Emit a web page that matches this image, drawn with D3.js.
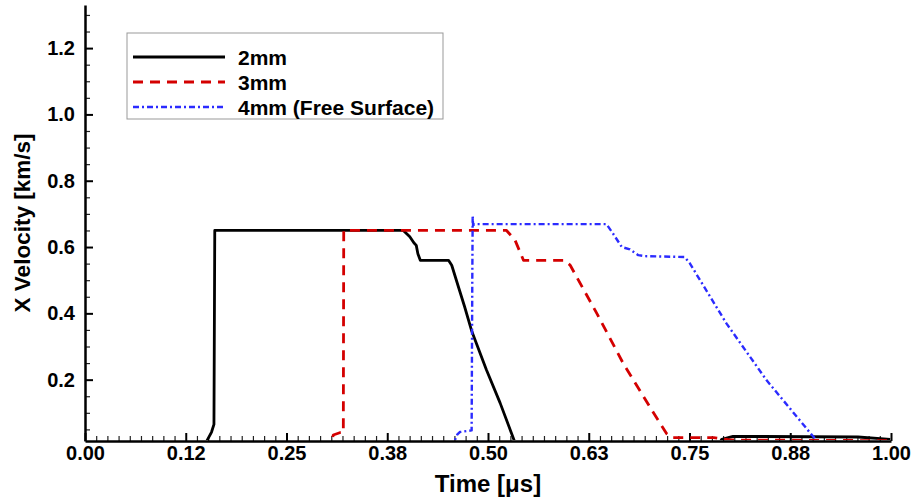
<!DOCTYPE html>
<html>
<head>
<meta charset="utf-8">
<script src="https://cdn.jsdelivr.net/npm/d3@7"></script>
<style>
  html, body { margin: 0; padding: 0; background: #fff; }
  svg { display: block; font-family: "Liberation Sans", Arial, sans-serif; font-weight: bold; }
</style>
</head>
<body>
<svg id="chart" width="916" height="500"></svg>
<script>
// ---------- data ----------
const seriesNames = ["2mm", "3mm", "4mm (Free Surface)"];

const t2mm = [0, 0.146, 0.150, 0.157, 0.160, 0.161, 0.395, 0.403, 0.408, 0.411, 0.413, 0.416, 0.451, 0.455, 0.462, 0.471, 0.480, 0.498, 0.515, 0.534, 0.545, 0.785, 0.790, 0.804, 0.959, 0.999];
const v2mm = [0, 0, 0.010, 0.042, 0.065, 0.650, 0.650, 0.631, 0.613, 0.605, 0.580, 0.560, 0.560, 0.545, 0.490, 0.420, 0.345, 0.230, 0.130, 0.007, 0, 0, 0.020, 0.029, 0.027, 0.020];

const t3mm = [0, 0.305, 0.308, 0.316, 0.3205, 0.3210, 0.523, 0.5335, 0.544, 0.5955, 0.602, 0.635, 0.668, 0.701, 0.7217, 0.729, 0.780, 0.800, 1.000];
const v3mm = [0, 0, 0.033, 0.040, 0.040, 0.650, 0.650, 0.621, 0.560, 0.560, 0.545, 0.400, 0.248, 0.117, 0.037, 0.025, 0.025, 0.018, 0.016];

const t4mm = [0, 0.452, 0.457, 0.462, 0.465, 0.4797, 0.4805, 0.4810, 0.4815, 0.483, 0.647, 0.655, 0.666, 0.676, 0.6865, 0.695, 0.744, 0.7506, 0.796, 0.8457, 0.9057, 0.908, 0.912, 1.000];
const v4mm = [0, 0, 0.007, 0.035, 0.042, 0.047, 0.500, 0.696, 0.665, 0.669, 0.669, 0.641, 0.600, 0.593, 0.5755, 0.5725, 0.570, 0.550, 0.369, 0.198, 0.022, 0.017, 0, 0];

const xTickValues = [0, 0.125, 0.25, 0.375, 0.5, 0.625, 0.75, 0.875, 1.0];
const xTickLabels = ["0.00", "0.12", "0.25", "0.38", "0.50", "0.63", "0.75", "0.88", "1.00"];
const yTickValues = [0.2, 0.4, 0.6, 0.8, 1.0, 1.2];
const yTickLabels = ["0.2", "0.4", "0.6", "0.8", "1.0", "1.2"];

const xTitle = "Time [\u03BCs]";
const yTitle = "X Velocity [km/s]";

// ---------- layout ----------
const svg = d3.select("#chart");
const padL = 85, padR = 891, padT = 5, padB = 441;

const x = d3.scaleLinear().domain([0, 1]).range([padL, padR]);
const y = d3.scaleLinear().domain([0.015, 1.33]).range([padB, padT]);

// clip
svg.append("defs").append("clipPath").attr("id", "plotclip")
  .append("rect").attr("x", padL).attr("y", padT).attr("width", padR - padL).attr("height", padB - padT - 1);

// minor ticks
const xMinor = [];
for (let i = 0; i < 8; i++) for (let j = 1; j <= 8; j++) xMinor.push(xTickValues[i] + j * 0.125 / 9);
const yMinor = [];
for (let k = 1; k <= 26; k++) { if (k % 4 !== 0) yMinor.push(k * 0.05); }

svg.append("g").attr("transform", `translate(0,${padB})`)
  .call(d3.axisBottom(x).tickValues(xMinor).tickSize(-5).tickFormat(""))
  .call(g => g.select(".domain").remove())
  .call(g => g.selectAll("line").attr("stroke", "#222").attr("stroke-width", 1.2));

svg.append("g").attr("transform", `translate(${padL},0)`)
  .call(d3.axisLeft(y).tickValues(yMinor).tickSize(-5).tickFormat(""))
  .call(g => g.select(".domain").remove())
  .call(g => g.selectAll("line").attr("stroke", "#222").attr("stroke-width", 1.2));

// major axes
const xAxis = svg.append("g").attr("transform", `translate(0,${padB})`)
  .call(d3.axisBottom(x).tickValues(xTickValues).tickSizeInner(-8).tickSizeOuter(0).tickPadding(5)
    .tickFormat((d, i) => xTickLabels[i]));
xAxis.select(".domain").attr("stroke", "#000").attr("stroke-width", 2.5);
xAxis.selectAll("line").attr("stroke", "#000").attr("stroke-width", 2);
xAxis.selectAll("text").attr("font-size", 20).attr("font-weight", "bold").attr("fill", "#000")
  .attr("font-family", "Liberation Sans, Arial, sans-serif");

const yAxis = svg.append("g").attr("transform", `translate(${padL},0)`)
  .call(d3.axisLeft(y).tickValues(yTickValues).tickSizeInner(-8).tickSizeOuter(0).tickPadding(10)
    .tickFormat((d, i) => yTickLabels[i]));
yAxis.select(".domain").attr("stroke", "#000").attr("stroke-width", 2.5);
yAxis.selectAll("line").attr("stroke", "#000").attr("stroke-width", 2);
yAxis.selectAll("text").attr("font-size", 20).attr("font-weight", "bold").attr("fill", "#000")
  .attr("font-family", "Liberation Sans, Arial, sans-serif");

// titles
svg.append("text").attr("x", (padL + padR) / 2).attr("y", 492).attr("text-anchor", "middle")
  .attr("font-size", 24).attr("font-weight", "bold").text(xTitle);
svg.append("text").attr("transform", `translate(30,${(padT + padB) / 2}) rotate(-90)`)
  .attr("text-anchor", "middle").attr("font-size", 22.5).attr("font-weight", "bold").text(yTitle);

// curves
const styles = [
  { color: "#000000", width: 2.8, dash: null },
  { color: "#d40000", width: 2.8, dash: "10,7" },
  { color: "#2b2bff", width: 2.4, dash: "6,3,2,3" }
];
const series = [
  d3.zip(t2mm, v2mm),
  d3.zip(t3mm, v3mm),
  d3.zip(t4mm, v4mm)
];
const line = d3.line().x(d => x(d[0])).y(d => y(d[1]));
const plot = svg.append("g").attr("clip-path", "url(#plotclip)");
series.forEach((s, i) => {
  plot.append("path").datum(s).attr("d", line)
    .attr("fill", "none").attr("stroke", styles[i].color).attr("stroke-width", styles[i].width)
    .attr("stroke-dasharray", styles[i].dash).attr("stroke-linejoin", "round");
});

// legend
const lg = svg.append("g");
lg.append("rect").attr("x", 127).attr("y", 33).attr("width", 316).attr("height", 86)
  .attr("fill", "#fff").attr("stroke", "#999").attr("stroke-width", 1);
const legY = [57, 82, 107];
seriesNames.forEach((name, i) => {
  lg.append("line").attr("x1", 133).attr("x2", 225).attr("y1", legY[i]).attr("y2", legY[i])
    .attr("stroke", styles[i].color).attr("stroke-width", styles[i].width)
    .attr("stroke-dasharray", styles[i].dash);
  lg.append("text").attr("x", 238).attr("y", legY[i]).attr("dy", "0.36em")
    .attr("font-size", 21).attr("font-weight", "bold").text(name);
});
</script>
</body>
</html>
